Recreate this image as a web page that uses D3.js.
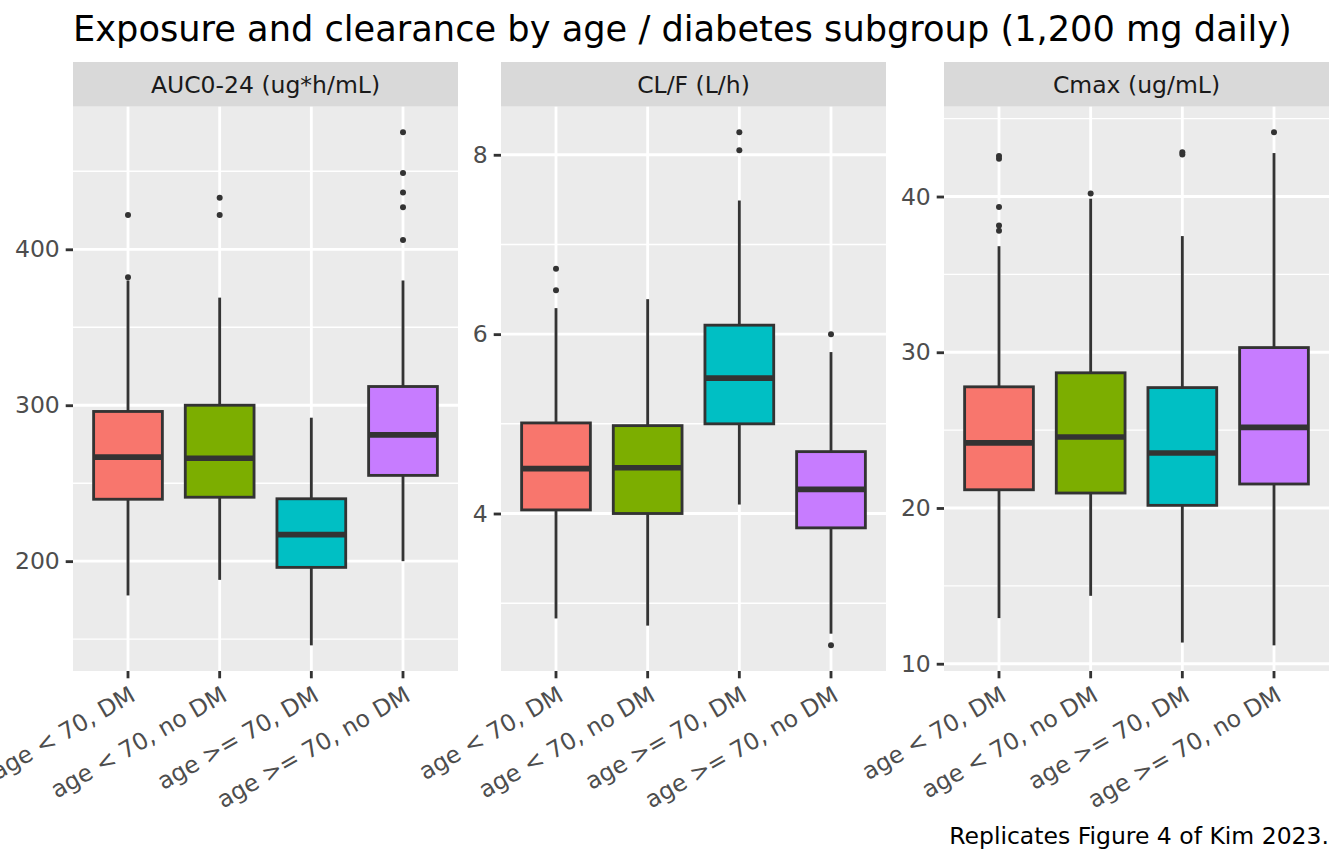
<!DOCTYPE html>
<html>
<head>
<meta charset="utf-8">
<script src="https://cdn.jsdelivr.net/npm/d3@7/dist/d3.min.js"></script>
<style>
  html, body { margin: 0; padding: 0; background: #fff; }
  svg { display: block; font-family: "DejaVu Sans", sans-serif; }
</style>
</head>
<body>
<svg id="chart" width="1344" height="864"></svg>
<script>
// ---------------- data ----------------
const categories = ["age < 70, DM", "age < 70, no DM", "age >= 70, DM", "age >= 70, no DM"];
const fillColors = ["#F8766D", "#7CAE00", "#00BFC4", "#C77CFF"];
const panelTitles = ["AUC0-24 (ug*h/mL)", "CL/F (L/h)", "Cmax (ug/mL)"];

// five-number summaries per category: [whisker low, Q1, median, Q3, whisker high]
const aucBoxes = [
  [178, 239.7, 266.7, 296, 380],
  [188, 241, 266, 300, 369],
  [146, 196, 217, 240, 292],
  [200, 255, 281, 312, 380]
];
const aucOutliers = [[382, 422], [422, 433], [], [406, 427, 436.5, 449, 475]];
const aucMajorTicks = [200, 300, 400];
const aucMinorTicks = [150, 250, 350, 450];

const clBoxes = [
  [2.83, 4.04, 4.50, 5.01, 6.29],
  [2.75, 4.00, 4.51, 4.98, 6.39],
  [4.10, 5.00, 5.51, 6.10, 7.49],
  [2.66, 3.84, 4.27, 4.69, 5.80]
];
const clOutliers = [[6.49, 6.73], [], [8.05, 8.25], [6.00, 2.53]];
const clMajorTicks = [4, 6, 8];
const clMinorTicks = [3, 5, 7];

const cmaxBoxes = [
  [12.93, 21.17, 24.18, 27.78, 36.81],
  [14.36, 20.96, 24.56, 28.68, 39.86],
  [11.36, 20.17, 23.53, 27.73, 37.46],
  [11.18, 21.54, 25.18, 30.30, 42.79]
];
const cmaxOutliers = [[37.8, 38.14, 39.32, 42.43, 42.6], [40.2], [42.7, 42.85], [44.12]];
const cmaxMajorTicks = [10, 20, 30, 40];
const cmaxMinorTicks = [15, 25, 35, 45];

const titleText = "Exposure and clearance by age / diabetes subgroup (1,200 mg daily)";
const captionText = "Replicates Figure 4 of Kim 2023.";

// ---------------- layout ----------------
const svg = d3.select("#chart");
const panelsX = [[73, 458], [501, 886], [944, 1329]];
const panelTop = 106.7, panelBottom = 671;
const stripTop = 62;
const fs = 23.5; // 8.8pt at 192dpi

const panelDefs = [
  { boxes: aucBoxes, outliers: aucOutliers, major: aucMajorTicks, minor: aucMinorTicks },
  { boxes: clBoxes, outliers: clOutliers, major: clMajorTicks, minor: clMinorTicks },
  { boxes: cmaxBoxes, outliers: cmaxOutliers, major: cmaxMajorTicks, minor: cmaxMinorTicks }
];

// title
svg.append("text")
  .attr("x", 73).attr("y", 41)
  .attr("font-size", 35.2).attr("fill", "#000")
  .text(titleText);

// caption
svg.append("text")
  .attr("x", 1329).attr("y", 844)
  .attr("text-anchor", "end")
  .attr("font-size", fs).attr("fill", "#000")
  .text(captionText);

panelDefs.forEach((p, i) => {
  const [x0, x1] = panelsX[i];
  const allVals = p.boxes.flat().concat(p.outliers.flat());
  const [mn, mx] = d3.extent(allVals);
  const pad = (mx - mn) * 0.05;
  const y = d3.scaleLinear().domain([mn - pad, mx + pad]).range([panelBottom, panelTop]);
  const x = d3.scaleBand().domain(categories).range([x0, x1]).paddingInner(0).paddingOuter(0);
  // discrete expansion: 0.6 unit on each side of positions 1..n
  const unit = (x1 - x0) / (categories.length - 1 + 1.2);
  const cx = c => x0 + (0.6 + categories.indexOf(c)) * unit;
  const boxW = 0.75 * unit;

  const g = svg.append("g");

  // strip
  g.append("rect").attr("x", x0).attr("y", stripTop).attr("width", x1 - x0).attr("height", panelTop - stripTop)
    .attr("fill", "#D9D9D9");
  g.append("text").attr("x", (x0 + x1) / 2).attr("y", (stripTop + panelTop) / 2)
    .attr("dy", "0.36em")
    .attr("text-anchor", "middle").attr("font-size", fs).attr("fill", "#1A1A1A")
    .text(panelTitles[i]);

  // panel background
  g.append("rect").attr("x", x0).attr("y", panelTop).attr("width", x1 - x0).attr("height", panelBottom - panelTop)
    .attr("fill", "#EBEBEB");

  // minor grid
  g.selectAll(".minor").data(p.minor.filter(v => y(v) >= panelTop && y(v) <= panelBottom)).join("line")
    .attr("x1", x0).attr("x2", x1).attr("y1", d => y(d)).attr("y2", d => y(d))
    .attr("stroke", "#fff").attr("stroke-width", 1.42);
  // major grid
  g.selectAll(".major").data(p.major).join("line")
    .attr("x1", x0).attr("x2", x1).attr("y1", d => y(d)).attr("y2", d => y(d))
    .attr("stroke", "#fff").attr("stroke-width", 2.84);
  g.selectAll(".vmajor").data(categories).join("line")
    .attr("x1", d => cx(d)).attr("x2", d => cx(d)).attr("y1", panelTop).attr("y2", panelBottom)
    .attr("stroke", "#fff").attr("stroke-width", 2.84);

  // y axis
  const yAxis = d3.axisLeft(y).tickValues(p.major).tickSize(7.3).tickPadding(5.9).tickFormat(d3.format("d"));
  const ya = svg.append("g").attr("transform", `translate(${x0},0)`).call(yAxis);
  ya.select(".domain").remove();
  ya.selectAll(".tick line").attr("stroke", "#333333").attr("stroke-width", 2.84);
  ya.selectAll(".tick text").attr("fill", "#4D4D4D").attr("font-size", fs)
    .attr("font-family", "DejaVu Sans, sans-serif");

  // x axis ticks
  categories.forEach(c => {
    svg.append("line").attr("x1", cx(c)).attr("x2", cx(c)).attr("y1", panelBottom).attr("y2", panelBottom + 7.3)
      .attr("stroke", "#333333").attr("stroke-width", 2.84);
    svg.append("text")
      .attr("transform", `translate(${cx(c)},${panelBottom + 7.3 + 5.9}) rotate(-30)`)
      .attr("text-anchor", "end").attr("dy", "0.76em")
      .attr("font-size", fs).attr("fill", "#4D4D4D")
      .text(c);
  });

  // boxes
  p.boxes.forEach((b, k) => {
    const c = categories[k];
    const xc = cx(c);
    const [lo, q1, med, q3, hi] = b;
    g.append("line").attr("x1", xc).attr("x2", xc).attr("y1", y(q3)).attr("y2", y(hi))
      .attr("stroke", "#333333").attr("stroke-width", 2.84);
    g.append("line").attr("x1", xc).attr("x2", xc).attr("y1", y(q1)).attr("y2", y(lo))
      .attr("stroke", "#333333").attr("stroke-width", 2.84);
    g.append("rect").attr("x", xc - boxW / 2).attr("width", boxW)
      .attr("y", y(q3)).attr("height", y(q1) - y(q3))
      .attr("fill", fillColors[k]).attr("stroke", "#333333").attr("stroke-width", 2.84);
    g.append("line").attr("x1", xc - boxW / 2).attr("x2", xc + boxW / 2).attr("y1", y(med)).attr("y2", y(med))
      .attr("stroke", "#333333").attr("stroke-width", 5.68);
    g.selectAll(null).data(p.outliers[k]).join("circle")
      .attr("cx", xc).attr("cy", d => y(d)).attr("r", 3)
      .attr("fill", "#333333");
  });
});
</script>
</body>
</html>
